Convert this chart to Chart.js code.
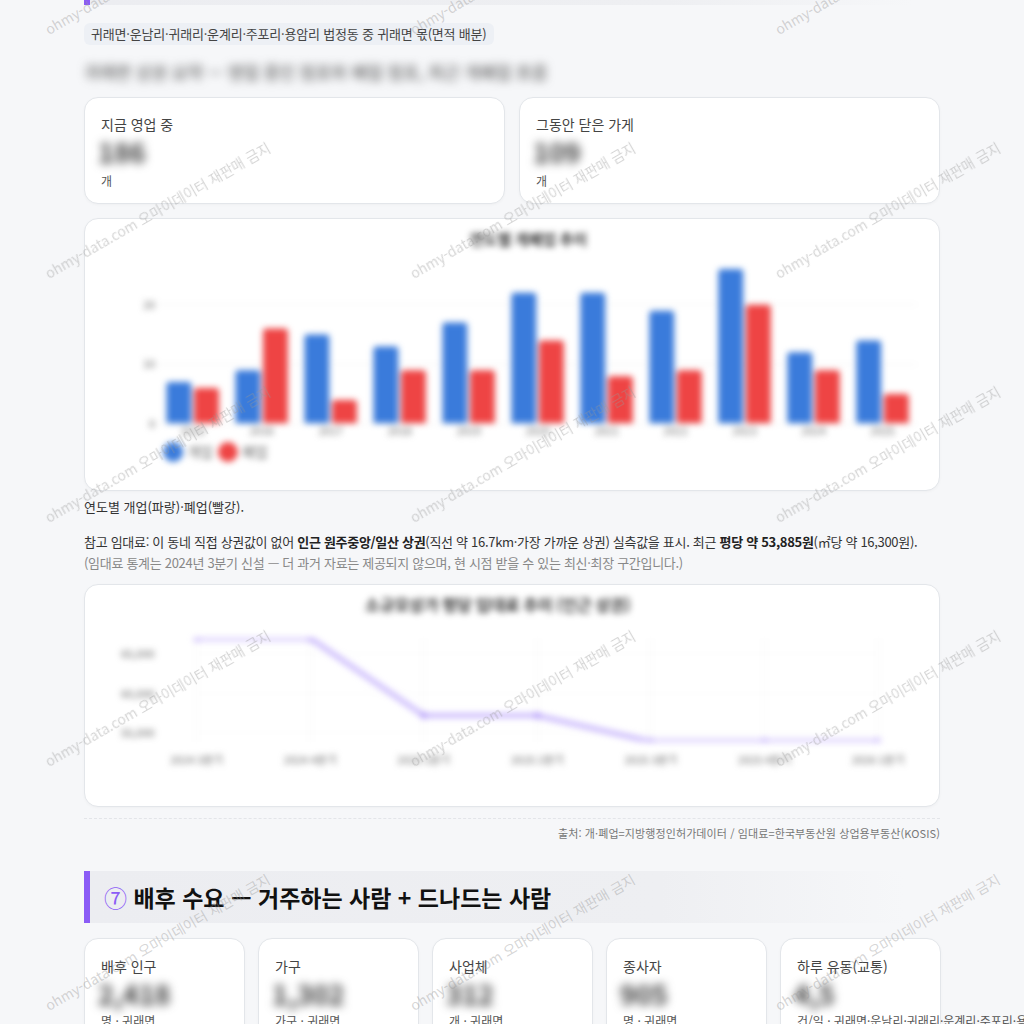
<!DOCTYPE html>
<html lang="ko">
<head>
<meta charset="utf-8">
<script src="https://cdn.jsdelivr.net/npm/chart.js@4.4.1/dist/chart.umd.min.js"></script>
<style>
html,body{margin:0;padding:0;}
body{width:1024px;height:1024px;overflow:hidden;background:#f6f7f9;font-family:"Noto Sans CJK KR","Noto Sans",sans-serif;color:#333;position:relative;}
.abs{position:absolute;}
.hdr{left:84px;width:830px;box-sizing:border-box;border-left:6px solid #8b5cf6;background:linear-gradient(90deg,#ecedf1 0%,#eeeff2 70%,rgba(238,239,242,0) 100%);}
.card{position:absolute;background:#fff;border:1px solid #e3e6ea;border-radius:14px;box-sizing:border-box;box-shadow:0 1px 3px rgba(0,0,0,0.03);}
.lbl{position:absolute;left:16px;font-size:14px;color:#444;white-space:nowrap;line-height:18px;}
.num{position:absolute;left:13px;font-size:27px;font-weight:700;color:#3a3a3a;filter:blur(5px);line-height:30px;white-space:nowrap;}
.unit{position:absolute;left:16px;font-size:12px;color:#555;white-space:nowrap;line-height:16px;}
.wm{position:absolute;font-size:14px;line-height:16px;height:16px;color:rgba(150,150,150,0.40);white-space:nowrap;transform:rotate(-30deg);transform-origin:0 100%;pointer-events:none;z-index:50;}
canvas.blurred{filter:blur(3px);}
</style>
</head>
<body>

<div class="abs hdr" style="top:-42px;height:47px;"></div>

<div class="abs" style="left:84px;top:23px;height:22px;line-height:22px;padding:0 7px;background:#edf0f5;border-radius:6px;font-size:13px;letter-spacing:-0.2px;color:#444;white-space:nowrap;">귀래면·운남리·귀래리·운계리·주포리·용암리 법정동 중 귀래면 몫(면적 배분)</div>

<div class="abs" style="left:84px;top:61px;font-size:17px;line-height:22px;color:#444;filter:blur(5px);white-space:nowrap;">귀래면 상권 요약 — 영업 중인 점포와 폐업 점포, 최근 개폐업 흐름</div>

<div class="card" style="left:84px;top:97px;width:421px;height:107px;">
  <div class="lbl" style="top:17px;">지금 영업 중</div>
  <div class="num" style="top:39px;">186</div>
  <div class="unit" style="top:75px;">개</div>
</div>
<div class="card" style="left:519px;top:97px;width:421px;height:107px;">
  <div class="lbl" style="top:17px;">그동안 닫은 가게</div>
  <div class="num" style="top:39px;">109</div>
  <div class="unit" style="top:75px;">개</div>
</div>

<div class="card" style="left:84px;top:218px;width:856px;height:273px;">
  <canvas id="barChart" class="blurred" width="824" height="262" style="position:absolute;left:15px;top:7px;"></canvas>
</div>

<div class="abs" style="left:84px;top:498px;font-size:13px;line-height:18px;color:#333;white-space:nowrap;">연도별 개업(파랑)·폐업(빨강).</div>

<div class="abs" style="left:84px;top:531px;font-size:13px;line-height:21px;letter-spacing:-0.3px;color:#333;white-space:nowrap;">참고 임대료: 이 동네 직접 상권값이 없어 <b style="color:#222">인근 원주중앙/일산 상권</b>(직선 약 16.7km·가장 가까운 상권) 실측값을 표시. 최근 <b style="color:#222">평당 약 53,885원</b>(㎡당 약 16,300원).<br><span style="color:#888">(임대료 통계는 2024년 3분기 신설 — 더 과거 자료는 제공되지 않으며, 현 시점 받을 수 있는 최신·최장 구간입니다.)</span></div>

<div class="card" style="left:84px;top:584px;width:856px;height:223px;">
  <canvas id="lineChart" class="blurred" width="824" height="206" style="position:absolute;left:15px;top:7px;"></canvas>
</div>

<div class="abs" style="left:84px;top:818px;width:856px;border-top:1px dashed #e3e5e9;"></div>
<div class="abs" style="right:84px;top:825px;font-size:11px;line-height:16px;letter-spacing:0.1px;color:#777;white-space:nowrap;">출처: 개·폐업=지방행정인허가데이터 / 임대료=한국부동산원 상업용부동산(KOSIS)</div>

<div class="abs hdr" style="top:871px;height:52px;width:820px;"></div>
<div class="abs" style="left:104px;top:880px;font-size:23px;line-height:34px;font-weight:700;color:#111;white-space:nowrap;"><span style="color:#8b5cf6;font-weight:400;">⑦</span> 배후 수요 — 거주하는 사람 + 드나드는 사람</div>

<div class="card" style="left:84px;top:938px;width:161px;height:120px;">
  <div class="lbl" style="top:18px;">배후 인구</div>
  <div class="num" style="top:40px;">2,418</div>
  <div class="unit" style="top:74px;">명 · 귀래면</div>
</div>
<div class="card" style="left:258px;top:938px;width:161px;height:120px;">
  <div class="lbl" style="top:18px;">가구</div>
  <div class="num" style="top:40px;">1,302</div>
  <div class="unit" style="top:74px;">가구 · 귀래면</div>
</div>
<div class="card" style="left:432px;top:938px;width:161px;height:120px;">
  <div class="lbl" style="top:18px;">사업체</div>
  <div class="num" style="top:40px;">312</div>
  <div class="unit" style="top:74px;">개 · 귀래면</div>
</div>
<div class="card" style="left:606px;top:938px;width:161px;height:120px;">
  <div class="lbl" style="top:18px;">종사자</div>
  <div class="num" style="top:40px;">905</div>
  <div class="unit" style="top:74px;">명 · 귀래면</div>
</div>
<div class="card" style="left:780px;top:938px;width:161px;height:120px;">
  <div class="lbl" style="top:18px;">하루 유동(교통)</div>
  <div class="num" style="top:40px;">4,5</div>
  <div class="unit" style="top:74px;">건/일 · 귀래면·운남리·귀래리·운계리·주포리·용암리</div>
</div>

<div id="wmLayer"></div>

<script>
// ---- data ----
const years = ['2015','2016','2017','2018','2019','2020','2021','2022','2023','2024','2025'];
const openCounts  = [7, 9, 15, 13, 17, 22, 22, 19, 26, 12, 14];
const closeCounts = [6, 16, 4, 9, 9, 14, 8, 9, 20, 9, 5];
const barLegendLabels = ['개업', '폐업'];
const barTickValues = [0, 10, 20];

const rentQuarters = ['2024 3분기','2024 4분기','2025 1분기','2025 2분기','2025 3분기','2025 4분기','2026 1분기'];
const rentPerPyeong = [67000, 67000, 57200, 57200, 53900, 53900, 53885];
const rentTickValues = [55000, 60000, 65000];

const barTitle = '연도별 개폐업 추이';
const lineTitle = '소규모상가 평당 임대료 추이 (인근 상권)';

// ---- watermarks ----
const wmText = 'ohmy-data.com 오마이데이터 재판매 금지';
const wmLayer = document.getElementById('wmLayer');
for (let r = 0; r < 5; r++) {
  for (let c = 0; c < 3; c++) {
    const d = document.createElement('div');
    d.className = 'wm';
    d.textContent = wmText;
    d.style.left = (50 + 365 * c) + 'px';
    d.style.top = (35 + 244 * r - 14) + 'px';
    wmLayer.appendChild(d);
  }
}

const fmt = v => String(v).replace(/\B(?=(\d{3})+(?!\d))/g, ',');
Chart.defaults.font.family = '"Noto Sans CJK KR", "Noto Sans", sans-serif';

new Chart(document.getElementById('barChart'), {
  type: 'bar',
  data: {
    labels: years,
    datasets: [
      { label: barLegendLabels[0], data: openCounts, backgroundColor: '#3a7bdb', borderRadius: 3 },
      { label: barLegendLabels[1], data: closeCounts, backgroundColor: '#ee4444', borderRadius: 3 }
    ]
  },
  options: {
    responsive: false,
    animation: false,
    layout: { padding: { left: 40, right: 7, top: 0, bottom: 19 } },
    plugins: {
      title: { display: true, text: barTitle, color: '#333', font: { size: 15, weight: 'bold' }, padding: { top: 4, bottom: 21 } },
      legend: {
        position: 'bottom', align: 'start', fullSize: false,
        labels: { usePointStyle: true, pointStyle: 'circle', boxWidth: 14, boxHeight: 14, padding: 8, color: '#666', font: { size: 14 } }
      },
      tooltip: { enabled: false }
    },
    scales: {
      x: { grid: { display: false, drawTicks: false }, border: { display: false }, ticks: { color: '#666', font: { size: 11 }, padding: 0 } },
      y: {
        bounds: 'data',
        min: 0,
        max: Math.max(...openCounts, ...closeCounts),
        afterBuildTicks: scale => { scale.ticks = barTickValues.map(v => ({ value: v })); },
        grid: { color: 'rgba(0,0,0,0.06)', drawTicks: false },
        border: { display: false },
        ticks: { color: '#666', font: { size: 11 }, padding: 3 }
      }
    }
  }
});

new Chart(document.getElementById('lineChart'), {
  type: 'line',
  data: {
    labels: rentQuarters,
    datasets: [{
      label: '평당 임대료', data: rentPerPyeong,
      borderColor: 'rgba(167,139,250,0.6)', backgroundColor: 'rgba(167,139,250,0.6)', borderWidth: 5,
      pointRadius: 3.5, pointBorderWidth: 0, tension: 0, fill: false
    }]
  },
  options: {
    responsive: false,
    animation: false,
    layout: { padding: { left: 18, right: 46, top: 0, bottom: 29 } },
    plugins: {
      title: { display: true, text: lineTitle, color: '#333', font: { size: 16, weight: 'bold' }, padding: { top: 3, bottom: 24 } },
      legend: { display: false },
      tooltip: { enabled: false }
    },
    scales: {
      x: { grid: { color: 'rgba(0,0,0,0.05)', tickColor: 'rgba(0,0,0,0)' }, border: { display: false }, ticks: { color: '#666', font: { size: 11 }, padding: 3 } },
      y: {
        bounds: 'data',
        min: Math.min(...rentPerPyeong),
        max: Math.max(...rentPerPyeong),
        afterBuildTicks: scale => { scale.ticks = rentTickValues.map(v => ({ value: v })); },
        grid: { color: 'rgba(0,0,0,0.025)', drawTicks: true, tickLength: 39, tickColor: 'rgba(0,0,0,0)' },
        border: { display: false },
        ticks: { padding: 3, color: '#666', font: { size: 11 }, callback: v => fmt(v) }
      }
    }
  }
});
</script>
</body>
</html>
